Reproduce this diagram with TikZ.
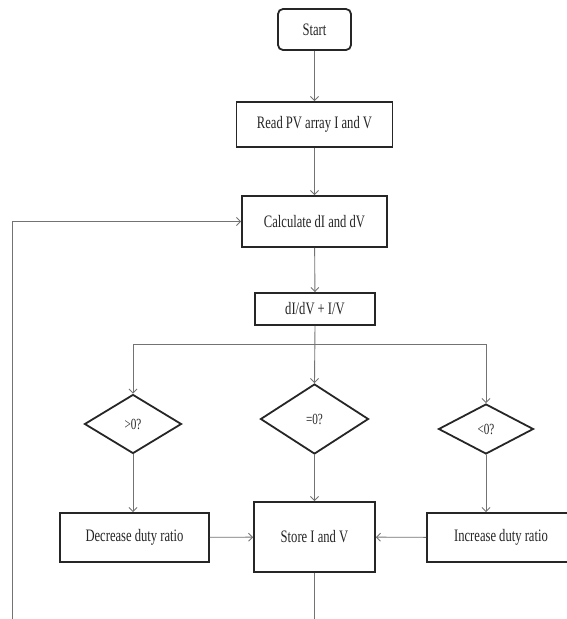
\documentclass[tikz,border=0pt]{standalone}
\usepackage{fontspec}
\setmainfont{Liberation Serif}[FakeStretch=0.72]
\usetikzlibrary{shapes.geometric,arrows.meta}
\begin{document}
\begin{tikzpicture}[x=1pt,y=-1pt,
  every node/.style={text=black!85},
  box/.style={draw=black!85,line width=1.8pt,fill=white,inner sep=2pt,font=\fontsize{17.5}{19}\selectfont},
  rbox/.style={box,rounded corners=5pt},
  dia/.style={draw=black!85,line width=1.8pt,diamond,inner sep=0pt,aspect=1.6,font=\fontsize{15.5}{17}\selectfont},
  conn/.style={draw=black!55,line width=0.9pt},
  arr/.style={conn,-{Straight Barb[length=4pt,width=8pt]}}]
\useasboundingbox (0,0) rectangle (566,619);
\node[rbox,minimum width=73pt,minimum height=41pt] (start) at (314.5,29.5) {Start};
\node[box,minimum width=156pt,minimum height=45pt] (read) at (314.5,124.5) {Read PV array I and V};
\node[box,minimum width=145pt,minimum height=51pt] (calc) at (314.5,221.5) {Calculate dI and dV};
\node[box,minimum width=120pt,minimum height=32pt] (eq) at (315,309) {dI/dV + I/V};
\node[dia,minimum width=97pt,minimum height=59pt] (gt) at (133,424) {>0?};
\node[dia,minimum width=108pt,minimum height=70pt] (eqz) at (314.5,419) {=0?};
\node[dia,minimum width=95pt,minimum height=50pt] (lt) at (486,429) {<0?};
\node[box,minimum width=149pt,minimum height=49pt] (dec) at (134.5,537.5) {Decrease duty ratio};
\node[box,minimum width=121pt,minimum height=70pt] (store) at (314.5,537) {Store I and V};
\node[box,minimum width=148pt,minimum height=49pt] (inc) at (501,537.5) {Increase duty ratio};
\coordinate (jl) at (133,344);
\coordinate (jr) at (486,344);
\coordinate (sb) at (314.5,619);
\coordinate (fb) at (12,619);
\draw[arr] (start) -- (read);
\draw[arr] (read) -- (calc);
\draw[arr] (calc) -- (eq);
\draw[arr] (eq.south) -- (eqz.north);
\draw[conn] (jl) -- (jr);
\draw[arr] (jl) -- (gt.north);
\draw[arr] (jr) -- (lt.north);
\draw[arr] (gt.south) -- (gt.south |- dec.north);
\draw[arr] (eqz.south) -- (store.north);
\draw[arr] (lt.south) -- (lt.south |- inc.north);
\draw[arr] (dec) -- (store);
\draw[arr] (inc) -- (store);
\draw[conn] (store) -- (sb);
\draw[arr] (fb) |- (calc.west);
\end{tikzpicture}
\end{document}
